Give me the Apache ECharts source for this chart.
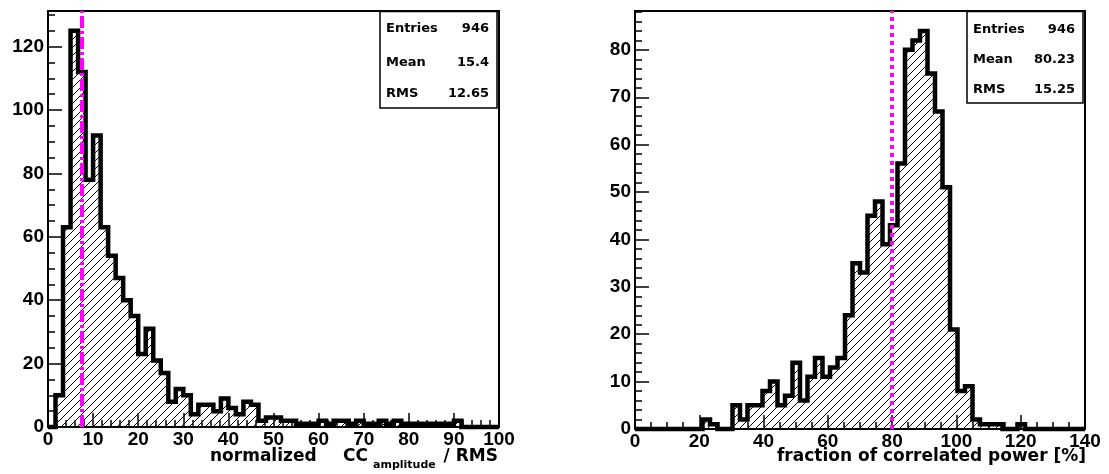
<!DOCTYPE html>
<html>
<head>
<meta charset="utf-8">
<script src="https://cdn.jsdelivr.net/npm/echarts@6/dist/echarts.min.js"></script>
<style>
  html, body { margin: 0; padding: 0; background: #fff; }
  #chart { width: 1109px; height: 474px; }
</style>
</head>
<body>
<div id="chart"></div>
<script>
// Histogram 1: normalized CC amplitude / RMS, 60 bins over [0, 100]
const ampRange = [0, 100];
const ampCounts = [
  0, 10, 63, 125, 112, 78, 92, 63, 54, 47,
  40, 35, 23, 31, 21, 17, 8, 12, 10, 4,
  7, 7, 5, 9, 6, 4, 8, 7, 2, 3,
  3, 2, 2, 1, 1, 1, 2, 1, 2, 2,
  1, 2, 1, 1, 2, 1, 2, 1, 1, 1,
  1, 1, 1, 1, 2, 0, 0, 0, 0, 0
];
const ampCut = 7.5;
const ampStats = [['Entries', '946'], ['Mean', '15.4'], ['RMS', '12.65']];

// Histogram 2: fraction of correlated power [%], 60 bins over [0, 140]
const powRange = [0, 140];
const powCounts = [
  0, 0, 0, 0, 0, 0, 0, 0, 0, 2,
  1, 0, 0, 5, 2, 5, 5, 8, 10, 5,
  7, 14, 6, 11, 15, 11, 13, 15, 24, 35,
  33, 45, 48, 39, 43, 56, 80, 82, 84, 75,
  67, 51, 21, 8, 9, 2, 1, 1, 1, 0,
  0, 1, 0, 0, 0, 0, 0, 0, 0, 0
];
const powCut = 80;
const powStats = [['Entries', '946'], ['Mean', '80.23'], ['RMS', '15.25']];

// Tick spacing: [major, minor]
const ampXTicks = [10, 2];
const ampYTicks = [20, 5];
const powXTicks = [20, 5];
const powYTicks = [10, 2];

const TICK_FONT = "'Liberation Sans', Arial, Helvetica, sans-serif";
const TEXT_FONT = "'DejaVu Sans', sans-serif";

// Bin edges with the count of each bin, closed by the upper edge
function stepPoints(range, counts) {
  const w = (range[1] - range[0]) / counts.length;
  const pts = counts.map((c, i) => [range[0] + i * w, c]);
  pts.push([range[1], counts[counts.length - 1]]);
  return pts;
}

// Diagonal hatch fill
function hatchPattern(size) {
  const c = document.createElement('canvas');
  c.width = c.height = size;
  const g = c.getContext('2d');
  g.strokeStyle = '#000';
  g.lineWidth = 1;
  g.beginPath();
  g.moveTo(-1, size + 1); g.lineTo(size + 1, -1);
  g.moveTo(-1, 1); g.lineTo(1, -1);
  g.moveTo(size - 1, size + 1); g.lineTo(size + 1, size - 1);
  g.stroke();
  return c;
}
const hatch = { image: hatchPattern(8), repeat: 'repeat' };

const tickLine = { color: '#000', width: 1.5 };
const tickLabel = { color: '#000', fontFamily: TICK_FONT, fontWeight: 'bold', fontSize: 19 };

function xAxisDef(gridIndex, range, ticks) {
  const [major, minor] = ticks;
  return {
    gridIndex, type: 'value', min: range[0], max: range[1], interval: major,
    axisLine: { show: false },
    axisTick: { inside: true, length: 14, lineStyle: tickLine },
    minorTick: { show: true, splitNumber: major / minor, length: 7, lineStyle: tickLine },
    splitLine: { show: false }, minorSplitLine: { show: false },
    axisLabel: Object.assign({ margin: 3 }, tickLabel)
  };
}

function yAxesDef(gridIndex, top, ticks) {
  const [major, minor] = ticks;
  return [{
    gridIndex, type: 'value', min: 0, max: top, interval: major, position: 'left',
    axisLine: { show: false },
    axisTick: { inside: true, length: 14, lineStyle: tickLine },
    splitLine: { show: false },
    axisLabel: Object.assign({
      margin: 4,
      formatter: v => (Math.abs(v / major - Math.round(v / major)) < 1e-9 ? String(v) : '')
    }, tickLabel)
  }, {
    gridIndex, type: 'value', min: 0, max: top, interval: minor, position: 'left',
    axisLine: { show: false },
    axisTick: { inside: true, length: 7, lineStyle: tickLine },
    splitLine: { show: false },
    axisLabel: { show: false }
  }];
}

function histSeries(xi, yi, range, counts, cut, dash) {
  return {
    type: 'line', xAxisIndex: xi, yAxisIndex: yi,
    data: stepPoints(range, counts),
    step: 'end', symbol: 'none', clip: false, silent: true,
    emphasis: { disabled: true },
    lineStyle: { color: '#000', width: 4.5, join: 'miter' },
    areaStyle: { color: hatch, opacity: 1 },
    markLine: {
      silent: true, symbol: 'none', animation: false,
      label: { show: false },
      emphasis: { disabled: true },
      lineStyle: { color: '#ff00ff', width: 4, type: dash },
      data: [{ xAxis: cut }]
    }
  };
}

function statsBox(x, y, w, h, rows, rowY) {
  const children = [{
    type: 'rect', shape: { x, y, width: w, height: h },
    style: { fill: '#fff', stroke: '#000', lineWidth: 1.5 }
  }];
  rows.forEach(([name, val], i) => {
    const font = 'bold 13px ' + TEXT_FONT;
    children.push({ type: 'text', x: x + 6, y: rowY[i],
      style: { text: name, font, fill: '#000', align: 'left', verticalAlign: 'middle' } });
    children.push({ type: 'text', x: x + w - 8, y: rowY[i],
      style: { text: val, font, fill: '#000', align: 'right', verticalAlign: 'middle' } });
  });
  return { type: 'group', z: 100, children };
}

const ampTop = Math.max(...ampCounts) * 1.05;
const powTop = Math.max(...powCounts) * 1.05;

const titleFont = 'bold 17px ' + TEXT_FONT;

const chart = echarts.init(document.getElementById('chart'), null, { renderer: 'canvas' });
chart.setOption({
  animation: false,
  backgroundColor: '#fff',
  grid: [
    { left: 48, top: 11, width: 451, height: 416, show: true, borderColor: '#000', borderWidth: 2, backgroundColor: 'transparent', containLabel: false, outerBoundsMode: 'none' },
    { left: 635, top: 11, width: 450, height: 418, show: true, borderColor: '#000', borderWidth: 2, backgroundColor: 'transparent', containLabel: false, outerBoundsMode: 'none' }
  ],
  xAxis: [xAxisDef(0, ampRange, ampXTicks), xAxisDef(1, powRange, powXTicks)],
  yAxis: [...yAxesDef(0, ampTop, ampYTicks), ...yAxesDef(1, powTop, powYTicks)],
  series: [
    histSeries(0, 0, ampRange, ampCounts, ampCut, [12, 3, 3, 3]),
    histSeries(1, 2, powRange, powCounts, powCut, [4, 4])
  ],
  graphic: [
    statsBox(380, 11.5, 117, 96.5, ampStats, [29, 62.5, 94]),
    statsBox(967, 11.5, 116, 91.5, powStats, [29.3, 59.3, 89.3]),
    { type: 'text', x: 210, y: 457, style: { text: 'normalized', font: titleFont, fill: '#000', align: 'left', verticalAlign: 'middle' } },
    { type: 'text', x: 343, y: 457, style: { text: 'CC', font: titleFont, fill: '#000', align: 'left', verticalAlign: 'middle' } },
    { type: 'text', x: 373, y: 465, style: { text: 'amplitude', font: 'bold 11px ' + TEXT_FONT, fill: '#000', align: 'left', verticalAlign: 'middle' } },
    { type: 'text', x: 498, y: 457, style: { text: '/ RMS', font: titleFont, fill: '#000', align: 'right', verticalAlign: 'middle' } },
    { type: 'text', x: 1086, y: 457, style: { text: 'fraction of correlated power [%]', font: titleFont, fill: '#000', align: 'right', verticalAlign: 'middle' } }
  ]
});
</script>
</body>
</html>
